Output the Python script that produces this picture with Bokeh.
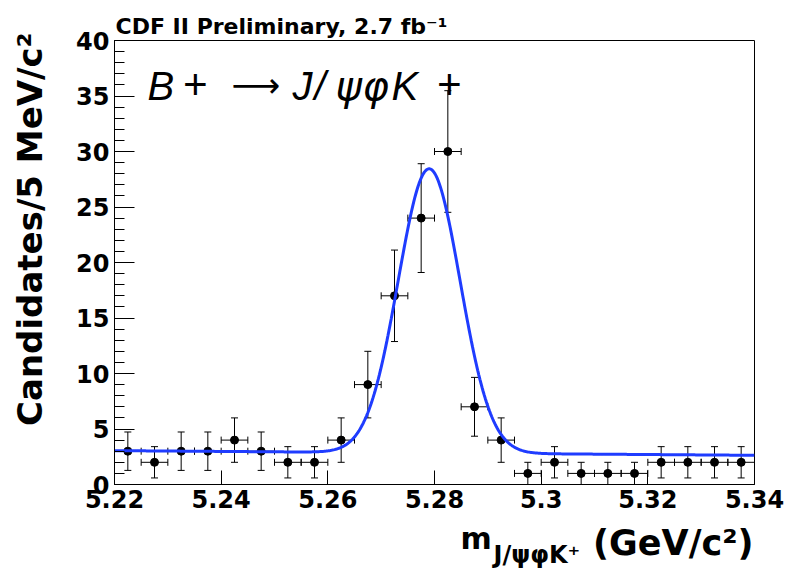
import numpy as np
from bokeh.plotting import figure
from bokeh.layouts import row, column
from bokeh.models import (ColumnDataSource, Whisker, TeeHead, FixedTicker,
                          Label, Range1d)
from bokeh.core.properties import value
from bokeh.embed import file_html
from bokeh.resources import INLINE

# --- histogram: B+ -> J/psi phi K+ candidates in 5 MeV bins -----------------
bin_centers = [5.2225, 5.2275, 5.2325, 5.2375, 5.2425, 5.2475, 5.2525, 5.2575,
               5.2625, 5.2675, 5.2725, 5.2775, 5.2825, 5.2875, 5.2925, 5.2975,
               5.3025, 5.3075, 5.3125, 5.3175, 5.3225, 5.3275, 5.3325, 5.3375]
counts = [3, 2, 3, 3, 4, 3, 2, 2, 4, 9, 17, 24, 30, 7, 4, 1,
          2, 1, 1, 1, 2, 2, 2, 2]
count_errors = [1.73, 1.41, 1.73, 1.73, 2.0, 1.73, 1.41, 1.41, 2.0, 3.0, 4.12,
                4.9, 5.48, 2.65, 2.0, 1.0, 1.41, 1.0, 1.0, 1.0, 1.41, 1.41,
                1.41, 1.41]
bin_half_width = 0.0025

# --- fit: Gaussian signal on a linear background ---------------------------
fit_mean = 5.2790      # GeV/c^2
fit_sigma = 0.0058     # GeV/c^2
fit_signal = 25.6      # candidates at the peak
fit_bkg0 = 3.05        # background at 5.22
fit_bkg_slope = -3.5   # candidates per GeV/c^2

# --- axes ------------------------------------------------------------------
x_ticks = [5.22, 5.24, 5.26, 5.28, 5.30, 5.32, 5.34]
x_tick_labels = ["5.22", "5.24", "5.26", "5.28", "5.3", "5.32", "5.34"]
y_ticks = [0, 5, 10, 15, 20, 25, 30, 35, 40]
y_tick_labels = ["0", "5", "10", "15", "20", "25", "30", "35", "40"]
y_minor_ticks = list(range(0, 41))

X_MIN, X_MAX = 5.22, 5.34
Y_MIN, Y_MAX = 0, 40

# page geometry (pixels): full canvas, frame edges, side strips for titles
W, H = 786, 569
FRAME_L, FRAME_R, FRAME_T, FRAME_B = 114, 754, 40, 484
LEFT_STRIP = 55
BOTTOM_STRIP = 50
# text is anchored at the middle of its font box; this is how far that
# middle sits above the alphabetic baseline, as a fraction of the size
MID_ABOVE_BASELINE = 0.346

p = figure(width=W - LEFT_STRIP, height=H - BOTTOM_STRIP,
           x_range=Range1d(X_MIN, X_MAX), y_range=Range1d(Y_MIN, Y_MAX),
           output_backend="svg", toolbar_location=None,
           min_border_left=FRAME_L - LEFT_STRIP,
           min_border_right=W - FRAME_R,
           min_border_top=FRAME_T,
           min_border_bottom=H - BOTTOM_STRIP - FRAME_B,
           background_fill_color="white", border_fill_color="white",
           title="CDF II Preliminary, 2.7 fb\u207b\u00b9")
p.grid.visible = False
p.outline_line_color = "black"
p.outline_line_width = 1

p.title.align = "left"
p.title.offset = 1
p.title.standoff = 4
p.title.text_font = "DejaVu Sans"
p.title.text_font_style = "bold"
p.title.text_font_size = "22px"
p.title.text_color = "black"


def at_px(px, py):
    """Canvas pixel -> data coordinates of the main frame."""
    return (X_MIN + (px - FRAME_L) * (X_MAX - X_MIN) / (FRAME_R - FRAME_L),
            Y_MIN + (FRAME_B - py) * (Y_MAX - Y_MIN) / (FRAME_B - FRAME_T))


tick_font = "DejaVu Sans"

xa = p.xaxis[0]
xa.ticker = FixedTicker(ticks=x_ticks, minor_ticks=[])
xa.major_label_overrides = dict(zip(x_ticks, x_tick_labels))
xa.major_tick_in = 14
xa.major_tick_out = 0
xa.minor_tick_in = 0
xa.minor_tick_out = 0
xa.major_label_standoff = 5
xa.major_label_text_font = tick_font
xa.major_label_text_font_style = "bold"
xa.major_label_text_font_size = "24px"
xa.major_label_text_color = "black"
xa.axis_line_color = "black"
xa.major_tick_line_color = "black"

ya = p.yaxis[0]
ya.ticker = FixedTicker(ticks=y_ticks, minor_ticks=y_minor_ticks)
ya.major_label_overrides = dict(zip(y_ticks, y_tick_labels))
ya.major_tick_in = 20
ya.major_tick_out = 0
ya.minor_tick_in = 10
ya.minor_tick_out = 0
ya.major_label_standoff = 5
ya.major_label_text_font = tick_font
ya.major_label_text_font_style = "bold"
ya.major_label_text_font_size = "24px"
ya.major_label_text_color = "black"
ya.axis_line_color = "black"
ya.major_tick_line_color = "black"
ya.minor_tick_line_color = "black"

# --- data points with error bars ------------------------------------------
src = ColumnDataSource(dict(
    x=bin_centers,
    y=counts,
    lo=[c - e for c, e in zip(counts, count_errors)],
    hi=[c + e for c, e in zip(counts, count_errors)],
    xlo=[b - bin_half_width for b in bin_centers],
    xhi=[b + bin_half_width for b in bin_centers],
))


def tee():
    return TeeHead(size=7, line_color="black", line_width=1)


p.add_layout(Whisker(base="x", lower="lo", upper="hi", source=src,
                     dimension="height", line_color="black", line_width=1,
                     upper_head=tee(), lower_head=tee()))
p.add_layout(Whisker(base="y", lower="xlo", upper="xhi", source=src,
                     dimension="width", line_color="black", line_width=1,
                     upper_head=tee(), lower_head=tee()))
p.scatter("x", "y", source=src, size=8, color="black")

# --- fit curve --------------------------------------------------------------
mass = np.linspace(X_MIN, X_MAX, 600)
fit_curve = (fit_bkg0 + fit_bkg_slope * (mass - X_MIN)
             + fit_signal * np.exp(-0.5 * ((mass - fit_mean) / fit_sigma) ** 2))
p.line(mass, fit_curve, line_color="#1f3cff", line_width=3)

# --- decay mode inside the frame -------------------------------------------
# (text, left edge px, baseline px, font, style, size)
decay_parts = [("B", 147, 99, "Liberation Sans", "italic", 40),
               ("+", 182, 99, "Liberation Sans", "italic", 42),
               ("\u27f6", 231, 96, "DejaVu Sans", "normal", 34),
               ("J", 292, 99, "Liberation Sans", "italic", 40),
               ("/", 314, 99, "Liberation Sans", "italic", 40),
               ("\u03c8", 335, 99, "DejaVu Sans", "italic", 40),
               ("\u03c6", 362, 99, "DejaVu Sans", "italic", 40),
               ("K", 391, 99, "Liberation Sans", "italic", 40),
               ("+", 436, 99, "Liberation Sans", "italic", 42)]
for txt, px, base, font, style, size in decay_parts:
    x, y = at_px(px, base - MID_ABOVE_BASELINE * size)
    p.add_layout(Label(x=x, y=y, text=txt, text_font=font,
                       text_font_size=f"{size}px", text_font_style=style,
                       text_color="black", text_align="left",
                       text_baseline="middle"))


# --- strips holding the axis titles ----------------------------------------
def text_strip(width, height, x0, x1):
    s = figure(width=width, height=height, x_range=Range1d(x0, x1),
               y_range=Range1d(0, height), x_axis_type=None,
               y_axis_type=None, output_backend="svg",
               toolbar_location=None, min_border=0, outline_line_color=None,
               background_fill_color="white", border_fill_color="white")
    return s


def strip_text(s, strip_top, text, px, py, size, align="left", angle=0.0):
    # (px, py) is the canvas point on the baseline; strip y runs upwards
    shift = MID_ABOVE_BASELINE * size
    if angle:
        px = px - shift
    else:
        py = py - shift
    s.text(x=[px], y=[s.height - (py - strip_top)], text=[text],
           angle=angle, text_align=align, text_baseline="middle",
           text_font=value("DejaVu Sans"), text_font_style="bold",
           text_font_size=value(f"{size}px"), text_color="black")


y_title = text_strip(LEFT_STRIP, H, 0, LEFT_STRIP)
strip_text(y_title, 0, "Candidates/5 MeV/c\u00b2", 41, 32, 34,
           align="right", angle=np.pi / 2)

# the strip under the plot shares the frame's horizontal extent
x_title = text_strip(W - LEFT_STRIP, BOTTOM_STRIP, FRAME_L, FRAME_R)
top = H - BOTTOM_STRIP
strip_text(x_title, top, "m", 460, 548, 30)
strip_text(x_title, top, "J/\u03c8\u03c6K\u207a", 493, 563, 24)
strip_text(x_title, top, "(GeV/c\u00b2)", 753, 555, 35, align="right")

layout = row(y_title, column(p, x_title))

open("out.html", "w").write(file_html(layout, INLINE))
